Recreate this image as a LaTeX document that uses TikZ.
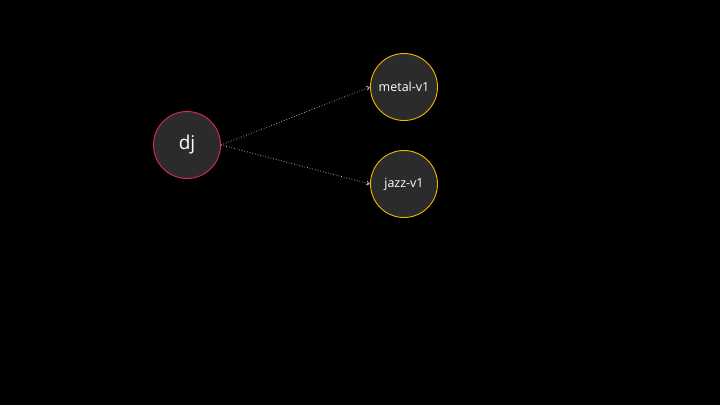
\documentclass[tikz,border=0pt]{standalone}
\usepackage{fontspec}
\setmainfont{Open Sans}
\usetikzlibrary{arrows.meta}
\definecolor{nodefill}{HTML}{2B2B2B}
\definecolor{pinkline}{HTML}{E0207A}
\definecolor{goldline}{HTML}{F2B600}
\definecolor{edgegray}{HTML}{C8C8C8}
\begin{document}
\begin{tikzpicture}[x=1pt,y=-1pt,
  basenode/.style={circle,fill=nodefill,minimum size=67pt,inner sep=0pt,text=white,line width=0.9pt},
  srcnode/.style={basenode,draw=pinkline,font=\fontsize{19}{21}\selectfont},
  dstnode/.style={basenode,draw=goldline,font=\fontsize{12.5}{14}\selectfont},
  edgeline/.style={draw=edgegray,dotted,line width=0.7pt,-{Straight Barb[length=3pt,width=4pt]}}]
\fill[black] (0,0) rectangle (720,405);
\useasboundingbox (0,0) rectangle (720,405);
\node[srcnode] (dj) at (187,145) {dj};
\node[dstnode] (metal) at (404,87) {metal-v1};
\node[dstnode] (jazz) at (404,184) {jazz-v1};
\draw[edgeline] (dj.east) -- (metal.west);
\draw[edgeline] (dj.east) -- (jazz.west);
\end{tikzpicture}
\end{document}
